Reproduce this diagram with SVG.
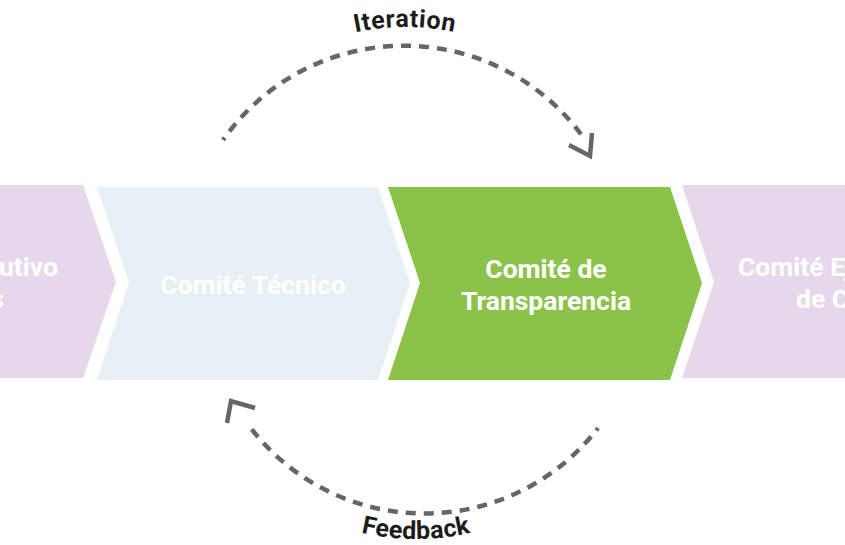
<svg xmlns="http://www.w3.org/2000/svg" width="845" height="545" viewBox="0 0 845 545">
  <defs>
    <style>
      .lbl { font-family: Roboto, "Liberation Sans", sans-serif; font-weight: bold; font-size: 26.5px; fill: #ffffff; text-anchor: middle; }
      .arc { fill: none; stroke: #63666a; stroke-width: 4.5; stroke-dasharray: 10 8; stroke-dashoffset: 7; }
      .head { fill: none; stroke: #63666a; stroke-width: 4.5; stroke-linejoin: miter; }
      .cap { font-family: Roboto, "Liberation Sans", sans-serif; font-weight: bold; font-size: 25px; fill: #1c1c1c; }
    </style>
    <path id="itPath" d="M255,79.4 A241 241 0 0 1 555,79.4"/>
    <path id="fbPath" d="M266,487.2 A243 243 0 0 0 566,487.2"/>
  </defs>
  <rect width="845" height="545" fill="#ffffff"/>

  <g id="node-ejecutivo-left">
    <polygon points="-200,185 83,185 116,282 83,378 -200,378" fill="#e6d8ea"/>
    <text class="lbl" x="58" y="276" style="text-anchor:end">utivo</text>
    <text class="lbl" x="4" y="308" style="text-anchor:end">s</text>
  </g>

  <g id="node-tecnico">
    <polygon points="97,187 378,187 410,283 378,380 97,380 129,283" fill="#e7f0f5"/>
    <text class="lbl" x="253" y="294">Comité Técnico</text>
  </g>

  <g id="node-transparencia">
    <polygon points="388,187 670,187 702,283 670,380 388,380 420,283" fill="#8bc34a"/>
    <text class="lbl" x="546" y="278">Comité de</text>
    <text class="lbl" x="546" y="310">Transparencia</text>
  </g>

  <g id="node-ejecutivo-right">
    <polygon points="682,185 1045,185 1045,378 682,378 714,282" fill="#e6d8ea"/>
    <text class="lbl" x="738" y="276" style="text-anchor:start">Comité Ej</text>
    <text class="lbl" x="796" y="308" style="text-anchor:start">de C</text>
  </g>

  <g id="connectors">
    <path class="arc" d="M223,140 A221 221 0 0 1 583,137"/>
    <path class="head" d="M569,145 L590,156 L592,133"/>
    <path class="arc" d="M598,428 A219 219 0 0 1 247,423"/>
    <path class="head" d="M255,408 L231,401 L227,423"/>
  </g>

  <g id="labels">
    <text class="cap" letter-spacing="0.6"><textPath href="#itPath" startOffset="50%" text-anchor="middle">Iteration</textPath></text>
    <text class="cap" letter-spacing="0.3"><textPath href="#fbPath" startOffset="50%" text-anchor="middle">Feedback</textPath></text>
  </g>
</svg>
